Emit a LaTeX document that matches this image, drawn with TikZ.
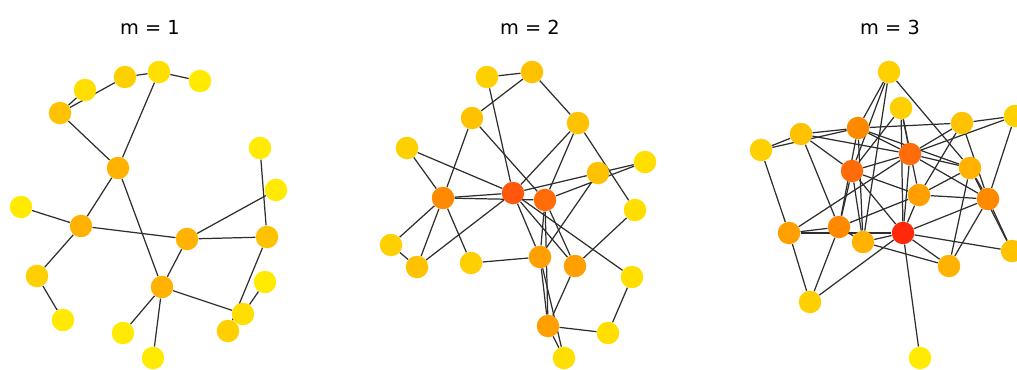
\documentclass[tikz,border=0pt]{standalone}
\usepackage{fontspec}
\newfontfamily\plotfont{DejaVu Sans}
\pgfdeclarelayer{background}
\pgfsetlayers{background,main}
% colour ramp, yellow (low degree) to red (high degree)
\definecolor{hotA}{RGB}{255,234,0}
\definecolor{hotB}{RGB}{255,222,0}
\definecolor{hotC}{RGB}{255,208,0}
\definecolor{hotD}{RGB}{255,194,0}
\definecolor{hotE}{RGB}{255,178,0}
\definecolor{hotF}{RGB}{255,160,0}
\definecolor{hotG}{RGB}{255,138,0}
\definecolor{hotH}{RGB}{255,108,8}
\definecolor{hotI}{RGB}{255,88,12}
\definecolor{hotJ}{RGB}{255,40,10}
\tikzset{
  vtx/.style={circle, fill=#1, inner sep=0pt, minimum size=0.45cm},
  lnk/.style={draw=black!82, line width=0.7pt},
  ttl/.style={font=\plotfont\fontsize{11}{13}\selectfont, inner sep=0pt}
}
\begin{document}
\begin{tikzpicture}[x=0.02cm, y=-0.02cm]
% picture measured in pixels, y going down
\useasboundingbox (0,0) rectangle (1017,369);
% Titles
\node[ttl] (t1) at (150,27) {m = 1};
\node[ttl] (t2) at (530,27) {m = 2};
\node[ttl] (t3) at (890,27) {m = 3};
% ---------------- m = 1
\node[vtx=hotC] (u1) at (125,77) {};
\node[vtx=hotB] (u2) at (159,72) {};
\node[vtx=hotA] (u3) at (200,81) {};
\node[vtx=hotB] (u4) at (85,90) {};
\node[vtx=hotD] (u5) at (60,113) {};
\node[vtx=hotE] (u6) at (118,168) {};
\node[vtx=hotA] (u7) at (21,207) {};
\node[vtx=hotE] (u8) at (81,226) {};
\node[vtx=hotE] (u9) at (187,239) {};
\node[vtx=hotD] (u10) at (267,237) {};
\node[vtx=hotA] (u11) at (260,148) {};
\node[vtx=hotA] (u12) at (276,190) {};
\node[vtx=hotC] (u13) at (37,276) {};
\node[vtx=hotA] (u14) at (63,320) {};
\node[vtx=hotE] (u15) at (162,287) {};
\node[vtx=hotA] (u16) at (123,333) {};
\node[vtx=hotA] (u17) at (153,358) {};
\node[vtx=hotA] (u18) at (265,282) {};
\node[vtx=hotB] (u19) at (243,314) {};
\node[vtx=hotC] (u20) at (228,331) {};
\begin{pgfonlayer}{background}
  \draw[lnk] (u5) -- (u4);
  \draw[lnk] (u5) -- (u1);
  \draw[lnk] (u1) -- (u2);
  \draw[lnk] (u2) -- (u3);
  \draw[lnk] (u2) -- (u6);
  \draw[lnk] (u5) -- (u6);
  \draw[lnk] (u6) -- (u8);
  \draw[lnk] (u6) -- (u15);
  \draw[lnk] (u7) -- (u8);
  \draw[lnk] (u8) -- (u9);
  \draw[lnk] (u8) -- (u13);
  \draw[lnk] (u13) -- (u14);
  \draw[lnk] (u9) -- (u10);
  \draw[lnk] (u9) -- (u12);
  \draw[lnk] (u9) -- (u15);
  \draw[lnk] (u11) -- (u10);
  \draw[lnk] (u10) -- (u20);
  \draw[lnk] (u15) -- (u19);
  \draw[lnk] (u15) -- (u16);
  \draw[lnk] (u15) -- (u17);
  \draw[lnk] (u19) -- (u18);
\end{pgfonlayer}
% ---------------- m = 2
\node[vtx=hotC] (v1) at (487,77) {};
\node[vtx=hotD] (v2) at (532,72) {};
\node[vtx=hotD] (v3) at (472,118) {};
\node[vtx=hotD] (v4) at (578,123) {};
\node[vtx=hotC] (v5) at (407,148) {};
\node[vtx=hotB] (v6) at (645,162) {};
\node[vtx=hotD] (v7) at (598,173) {};
\node[vtx=hotG] (v8) at (443,198) {};
\node[vtx=hotI] (v9) at (513,193) {};
\node[vtx=hotH] (v10) at (545,200) {};
\node[vtx=hotB] (v11) at (635,210) {};
\node[vtx=hotC] (v12) at (391,245) {};
\node[vtx=hotD] (v13) at (417,267) {};
\node[vtx=hotC] (v14) at (471,263) {};
\node[vtx=hotF] (v15) at (540,257) {};
\node[vtx=hotF] (v16) at (575,266) {};
\node[vtx=hotB] (v17) at (632,277) {};
\node[vtx=hotF] (v18) at (548,326) {};
\node[vtx=hotB] (v19) at (608,333) {};
\node[vtx=hotB] (v20) at (564,358) {};
\begin{pgfonlayer}{background}
  \draw[lnk] (v1) -- (v2);
  \draw[lnk] (v1) -- (v9);
  \draw[lnk] (v2) -- (v3);
  \draw[lnk] (v2) -- (v4);
  \draw[lnk] (v3) -- (v8);
  \draw[lnk] (v3) -- (v10);
  \draw[lnk] (v4) -- (v9);
  \draw[lnk] (v4) -- (v10);
  \draw[lnk] (v4) -- (v11);
  \draw[lnk] (v5) -- (v8);
  \draw[lnk] (v5) -- (v9);
  \draw[lnk] (v8) -- (v9);
  \draw[lnk] (v8) -- (v10);
  \draw[lnk] (v8) -- (v12);
  \draw[lnk] (v8) -- (v13);
  \draw[lnk] (v8) -- (v14);
  \draw[lnk] (v9) -- (v13);
  \draw[lnk] (v9) -- (v7);
  \draw[lnk] (v7) -- (v6);
  \draw[lnk] (v10) -- (v6);
  \draw[lnk] (v9) -- (v15);
  \draw[lnk] (v9) -- (v16);
  \draw[lnk] (v9) -- (v17);
  \draw[lnk] (v10) -- (v15);
  \draw[lnk] (v10) -- (v18);
  \draw[lnk] (v10) -- (v16);
  \draw[lnk] (v7) -- (v15);
  \draw[lnk] (v11) -- (v16);
  \draw[lnk] (v12) -- (v13);
  \draw[lnk] (v14) -- (v15);
  \draw[lnk] (v15) -- (v18);
  \draw[lnk] (v15) -- (v20);
  \draw[lnk] (v16) -- (v18);
  \draw[lnk] (v18) -- (v19);
  \draw[lnk] (v18) -- (v20);
  \draw[lnk] (v17) -- (v19);
\end{pgfonlayer}
% ---------------- m = 3
\node[vtx=hotC] (w1) at (889,72) {};
\node[vtx=hotC] (w2) at (901,108) {};
\node[vtx=hotD] (w3) at (962,123) {};
\node[vtx=hotC] (w4) at (1015,116) {};
\node[vtx=hotG] (w5) at (858,128) {};
\node[vtx=hotD] (w6) at (801,134) {};
\node[vtx=hotC] (w7) at (761,150) {};
\node[vtx=hotH] (w8) at (910,154) {};
\node[vtx=hotH] (w9) at (852,171) {};
\node[vtx=hotE] (w10) at (970,168) {};
\node[vtx=hotF] (w11) at (919,195) {};
\node[vtx=hotG] (w12) at (988,199) {};
\node[vtx=hotF] (w13) at (789,233) {};
\node[vtx=hotG] (w14) at (839,227) {};
\node[vtx=hotE] (w15) at (863,242) {};
\node[vtx=hotJ] (w16) at (903,233) {};
\node[vtx=hotD] (w17) at (1012,251) {};
\node[vtx=hotE] (w18) at (949,266) {};
\node[vtx=hotC] (w19) at (810,302) {};
\node[vtx=hotA] (w20) at (920,358) {};
\begin{pgfonlayer}{background}
  \draw[lnk] (w1) -- (w5);
  \draw[lnk] (w1) -- (w9);
  \draw[lnk] (w1) -- (w15);
  \draw[lnk] (w1) -- (w10);
  \draw[lnk] (w2) -- (w8);
  \draw[lnk] (w2) -- (w16);
  \draw[lnk] (w2) -- (w9);
  \draw[lnk] (w2) -- (w11);
  \draw[lnk] (w3) -- (w4);
  \draw[lnk] (w3) -- (w5);
  \draw[lnk] (w3) -- (w8);
  \draw[lnk] (w3) -- (w11);
  \draw[lnk] (w3) -- (w12);
  \draw[lnk] (w4) -- (w8);
  \draw[lnk] (w4) -- (w12);
  \draw[lnk] (w5) -- (w6);
  \draw[lnk] (w5) -- (w8);
  \draw[lnk] (w5) -- (w10);
  \draw[lnk] (w5) -- (w15);
  \draw[lnk] (w5) -- (w14);
  \draw[lnk] (w6) -- (w7);
  \draw[lnk] (w7) -- (w5);
  \draw[lnk] (w6) -- (w9);
  \draw[lnk] (w6) -- (w8);
  \draw[lnk] (w6) -- (w14);
  \draw[lnk] (w7) -- (w13);
  \draw[lnk] (w8) -- (w9);
  \draw[lnk] (w8) -- (w10);
  \draw[lnk] (w8) -- (w12);
  \draw[lnk] (w8) -- (w16);
  \draw[lnk] (w8) -- (w13);
  \draw[lnk] (w9) -- (w11);
  \draw[lnk] (w9) -- (w16);
  \draw[lnk] (w9) -- (w14);
  \draw[lnk] (w9) -- (w15);
  \draw[lnk] (w10) -- (w11);
  \draw[lnk] (w10) -- (w18);
  \draw[lnk] (w10) -- (w12);
  \draw[lnk] (w10) -- (w17);
  \draw[lnk] (w11) -- (w12);
  \draw[lnk] (w11) -- (w16);
  \draw[lnk] (w11) -- (w14);
  \draw[lnk] (w12) -- (w17);
  \draw[lnk] (w12) -- (w16);
  \draw[lnk] (w12) -- (w18);
  \draw[lnk] (w13) -- (w14);
  \draw[lnk] (w13) -- (w16);
  \draw[lnk] (w13) -- (w19);
  \draw[lnk] (w14) -- (w19);
  \draw[lnk] (w14) -- (w15);
  \draw[lnk] (w15) -- (w16);
  \draw[lnk] (w15) -- (w18);
  \draw[lnk] (w16) -- (w17);
  \draw[lnk] (w16) -- (w18);
  \draw[lnk] (w16) -- (w20);
  \draw[lnk] (w16) -- (w19);
\end{pgfonlayer}
\end{tikzpicture}
\end{document}
